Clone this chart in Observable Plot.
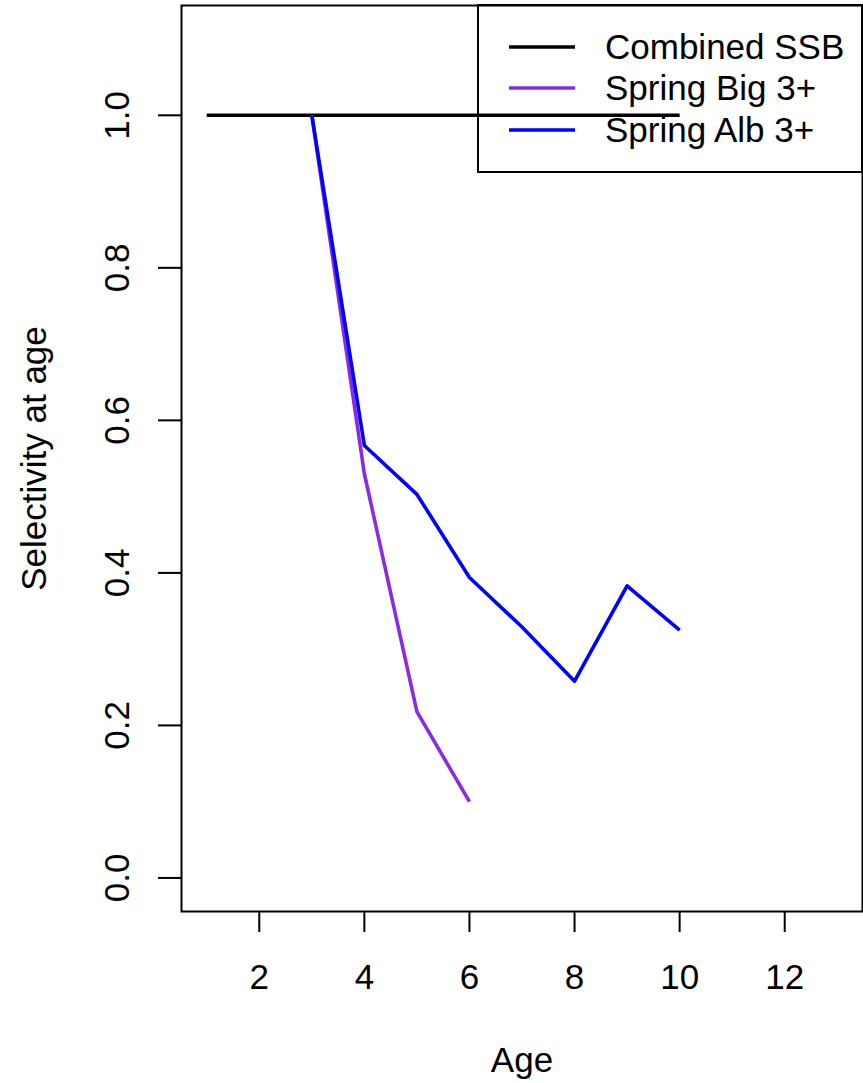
<!DOCTYPE html>
<html>
<head>
<meta charset="utf-8">
<script src="https://cdn.jsdelivr.net/npm/d3@7"></script>
<script src="https://cdn.jsdelivr.net/npm/@observablehq/plot@0.6"></script>
<style>
  html, body { margin: 0; padding: 0; background: #fff; }
  #chart svg { display: block; }
</style>
</head>
<body>
<div id="chart"></div>
<script>
// ---- data ----
const combinedAges = [1, 2, 3, 4, 5, 6, 7, 8, 9, 10];
const combinedSel  = [1, 1, 1, 1, 1, 1, 1, 1, 1, 1];
const bigAges = [3, 4, 5, 6];
const bigSel  = [1.0, 0.53, 0.218, 0.10];
const albAges = [3, 4, 5, 6, 7, 8, 9, 10];
const albSel  = [1.0, 0.567, 0.503, 0.394, 0.329, 0.258, 0.383, 0.325];
const seriesNames  = ["Combined SSB", "Spring Big 3+", "Spring Alb 3+"];
const seriesColors = ["#000000", "#8A2BE2", "#0000FF"];
const xTicks = [2, 4, 6, 8, 10, 12];
const yTicks = [0, 0.2, 0.4, 0.6, 0.8, 1.0];

const rows = [];
combinedAges.forEach((a, i) => rows.push({series: seriesNames[0], age: a, sel: combinedSel[i]}));
bigAges.forEach((a, i) => rows.push({series: seriesNames[1], age: a, sel: bigSel[i]}));
albAges.forEach((a, i) => rows.push({series: seriesNames[2], age: a, sel: albSel[i]}));

const W = 863, H = 1083;
const mL = 181, mR = 1, mT = 5, mB = 172;
const FS = 35;
const FONT = "Liberation Sans, Arial, Helvetica, sans-serif";
const LW = 3.6;

const chart = Plot.plot({
  width: W, height: H,
  marginLeft: mL, marginRight: mR, marginTop: mT, marginBottom: mB,
  style: {fontFamily: FONT, fontSize: FS + "px", background: "#fff", color: "#000"},
  x: {domain: [0.52, 13.48]},
  y: {domain: [-0.044, 1.144]},
  color: {domain: seriesNames, range: seriesColors},
  marks: [
    Plot.frame({stroke: "#000", strokeWidth: 2}),
    Plot.axisX({ticks: xTicks, tickSize: 21, tickPadding: 32, tickFormat: d3.format("d"),
                label: null, fontSize: FS, strokeWidth: 2}),
    Plot.axisY({ticks: yTicks, tickSize: 23, tickFormat: () => "", label: null, strokeWidth: 2}),
    Plot.text(yTicks, {y: d => d, text: d => d.toFixed(1), frameAnchor: "left", dx: -64,
                       rotate: -90, textAnchor: "middle", lineAnchor: "middle", fontSize: FS, fill: "#000"}),
    Plot.text(["Age"], {text: d => d, frameAnchor: "bottom", dy: 149, textAnchor: "middle",
                        lineAnchor: "middle", fontSize: FS, fill: "#000"}),
    Plot.text(["Selectivity at age"], {text: d => d, frameAnchor: "left", dx: -147, rotate: -90,
                       textAnchor: "middle", lineAnchor: "middle", fontSize: FS, fill: "#000"}),
    Plot.line(rows, {x: "age", y: "sel", z: "series", stroke: "series", strokeWidth: LW,
                     strokeLinejoin: "round", strokeLinecap: "butt"})
  ]
});
document.getElementById("chart").appendChild(chart);

// ---- legend (top-right, transparent box, as in R's legend()) ----
const svg = d3.select(chart);
const boxRight = W - mR;
const boxLeft = 478, boxTop = mT, boxBottom = 172;
const g = svg.append("g").attr("font-family", FONT).attr("font-size", FS).attr("text-anchor", "start");
g.append("rect").attr("x", boxLeft).attr("y", boxTop)
  .attr("width", boxRight - boxLeft).attr("height", boxBottom - boxTop)
  .attr("fill", "none").attr("stroke", "#000").attr("stroke-width", 2);
const rowY = [47, 88, 130];
seriesNames.forEach((name, i) => {
  g.append("line").attr("x1", 509).attr("x2", 575).attr("y1", rowY[i]).attr("y2", rowY[i])
    .attr("stroke", seriesColors[i]).attr("stroke-width", LW);
  g.append("text").attr("x", 605).attr("y", rowY[i]).attr("dy", "0.35em")
    .attr("text-anchor", "start").attr("fill", "#000").text(name);
});
</script>
</body>
</html>
